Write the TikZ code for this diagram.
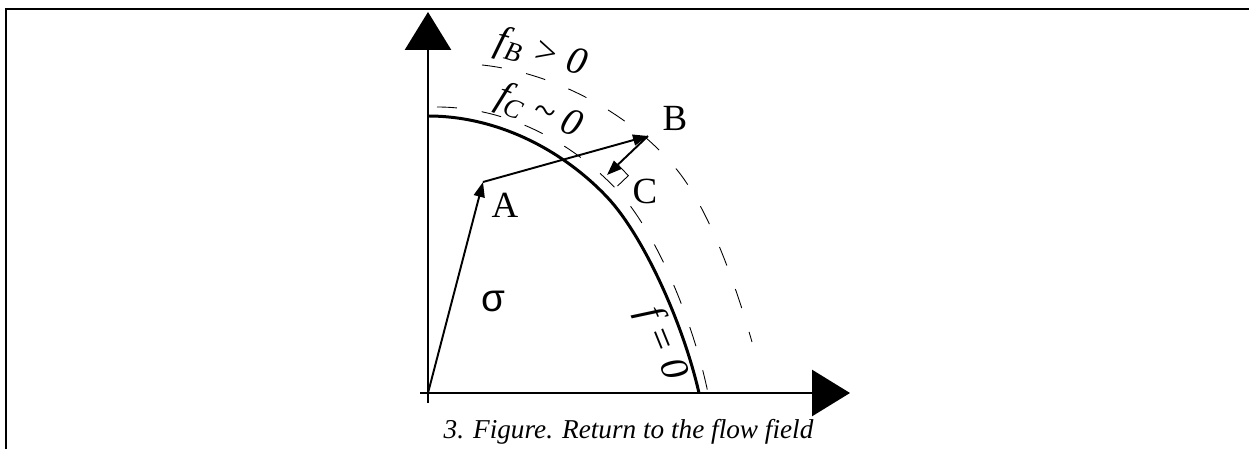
\documentclass[tikz,border=0pt]{standalone}
\usepackage{fontspec}
\setmainfont{Liberation Serif}
\newfontfamily\sansgreek{Liberation Sans}
\usetikzlibrary{arrows.meta,positioning,calc}
\tikzset{
  axis/.style  = {line width=1.6pt, -{Triangle[length=7.6mm,width=9.2mm]}},
  vec/.style   = {line width=1.1pt, -{Triangle[length=3mm,width=2.2mm]}},
  yield/.style = {line width=1.7pt},
  level/.style = {line width=0.5pt, dash pattern=on 0.4cm off 0.5cm},
  pt/.style    = {font=\fontsize{21}{21}\selectfont, inner sep=0pt},
  flab/.style  = {font=\fontsize{22}{22}\selectfont\itshape, inner sep=0pt},
  figcap/.style = {font=\fontsize{15.5}{16}\selectfont\itshape, inner sep=0pt},
}
\begin{document}
\begin{tikzpicture}[x=1cm,y=1cm]
\useasboundingbox (-8.56,-1.12) rectangle (16.42,7.86);
% frame
\draw[line width=0.8pt] (-8.44,-1.12) -- (-8.44,7.68) -- (16.42,7.68);
% axes
\coordinate (O) at (0,0);
\draw[axis] (0,-0.2) -- (0,7.62);
\draw[axis] (-0.16,0) -- (8.44,0);
% yield surface f=0 and the two level curves
\draw[yield] (0,5.54) .. controls (1.4,5.54) and (2.7,4.85) .. (3.58,3.92)
  .. controls (4.3,3.16) and (5.1,1.4) .. (5.42,0);
\draw[level] (0.18,5.72) .. controls (1.6,5.72) and (2.9,5.0) .. (3.78,4.06)
  .. controls (4.55,3.25) and (5.3,1.45) .. (5.6,0);
\draw[level] (1.08,6.56) .. controls (2.6,6.4) and (4.2,5.5) .. (5.06,4.36)
  .. controls (5.7,3.5) and (6.2,2.0) .. (6.48,1.02);
% stress states
\coordinate (A) at (1.10,4.22);
\coordinate (B) at (4.40,5.14);
\coordinate (C) at (3.58,4.36);
\draw[vec] (O) -- (A);
\draw[vec] (A) -- (B);
\draw[vec] (B) -- (C);
\draw[line width=0.5pt] ($(C)!0.3cm!(B)$) -- ++(0.21,-0.22) -- ($(C)+(0.21,-0.22)$);
\node[pt] (lA) at (1.54,3.76) {A};
\node[pt] (lB) at (4.94,5.50) {B};
\node[pt] (lC) at (4.34,4.04) {C};
\node[inner sep=0pt, font=\fontsize{22}{22}\selectfont\sansgreek] (sig) at (1.3,1.84) {σ};
\node[flab, rotate=-16] (lfB) at (2.26,6.78) {f\textsubscript{B} > 0};
\node[flab, rotate=-22] (lfC) at (2.22,5.62) {f\textsubscript{C} \textasciitilde{} 0};
\node[flab, rotate=-68] (lf0) at (4.66,0.98) {f = 0};
\node[figcap] (cap) at (4.01,-0.78) {3. Figure. Return to the flow field};
\end{tikzpicture}
\end{document}
